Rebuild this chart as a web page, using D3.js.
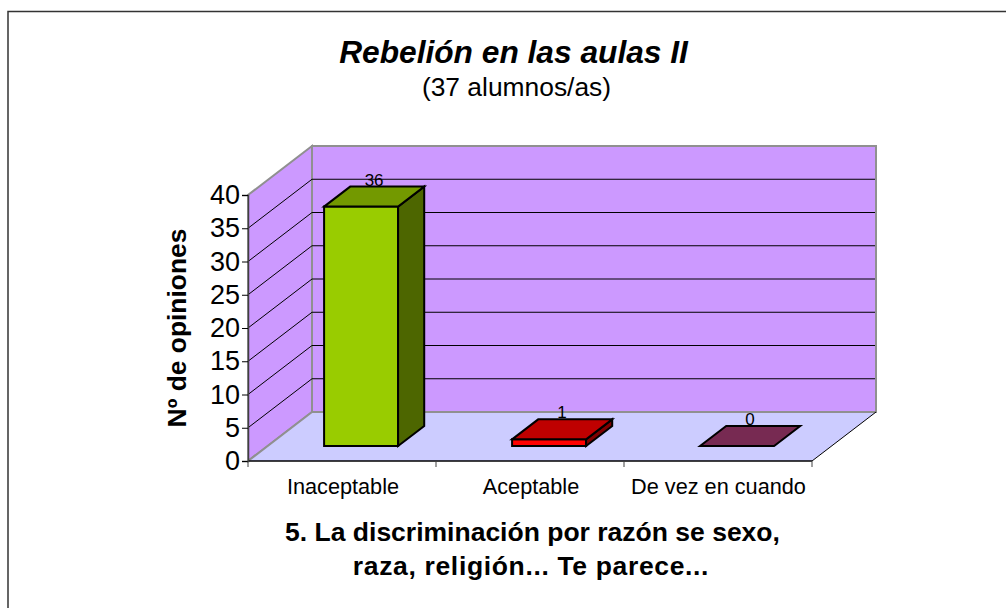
<!DOCTYPE html>
<html><head><meta charset="utf-8">
<style>html,body{margin:0;padding:0;background:#fff}svg{display:block}text{font-family:"Liberation Sans",Arial,sans-serif;fill:#000}</style>
<script src="https://cdn.jsdelivr.net/npm/d3@7"></script></head><body><svg id="c" width="1006" height="608"></svg>
<script>
const categories=["Inaceptable","Aceptable","De vez en cuando"];
const values=[36,1,0];
const yTicks=[0,5,10,15,20,25,30,35,40];
const frontColors=["#99cc00","#ff0000","#772a52"];
const topColors=["#739900","#bf0000","#772a52"];
const sideColors=["#4d6600","#800000","#772a52"];
const svg=d3.select("#c");
svg.append("path").attr("fill","none").attr("stroke","#333").attr("stroke-width",1.5).attr("d","M8,608V11.5H1006");
const x=d3.scaleBand().domain(categories).range([248,812]);
const y=d3.scaleLinear().domain([0,40]).range([461,195]);
const depth=d3.scaleLinear().domain([0,1]).range([0,64]);
const px=(vx,d)=>vx+depth(d), py=(vy,d)=>vy-depth(d)*49/64;
const poly=(pts,fill,stroke,sw)=>svg.append("polygon").attr("points",pts.map(p=>p.join(",")).join(" ")).attr("fill",fill).attr("stroke",stroke).attr("stroke-width",sw);
const xL=248,xR=812,y0=y(0),yT=y(40);
poly([[px(xL,1),py(y0,1)],[px(xR,1),py(y0,1)],[px(xR,1),py(yT,1)],[px(xL,1),py(yT,1)]],"#cc99ff","#909090",2);
poly([[px(xL,0),y0],[px(xL,1),py(y0,1)],[px(xL,1),py(yT,1)],[px(xL,0),yT]],"#cc99ff","#909090",2);
poly([[xL,y0],[xR,y0],[px(xR,1),py(y0,1)],[px(xL,1),py(y0,1)]],"#ccccff","none",0);
yTicks.slice(1,-1).forEach(t=>{
  svg.append("path").attr("fill","none").attr("stroke","#000").attr("d",`M${xL},${y(t)}L${px(xL,1)},${py(y(t),1)}H${px(xR,1)-1}`);
});
svg.append("path").attr("fill","none").attr("stroke","#909090").attr("stroke-width",2).attr("d",`M${xL},${y0}L${px(xL,1)},${py(y0,1)}H${px(xR,1)}`);
svg.append("path").attr("fill","none").attr("stroke","#000").attr("d",`M${xR},${y0}L${px(xR,1)},${py(y0,1)}`);
svg.append("path").attr("fill","none").attr("stroke","#000").attr("stroke-width",1.5).attr("d",`M${xL},${y0}H${xR}`);
const ax=svg.append("g").attr("transform",`translate(${xL},0)`).call(d3.axisLeft(y).tickValues(yTicks).tickSize(6).tickPadding(3));
ax.select(".domain").attr("stroke","#404040").attr("stroke-width",1.5);
ax.selectAll("text").style("font-size","27px").style("font-family",'"Liberation Sans",Arial,sans-serif').attr("dx",1);
[xL,...categories.map(c=>x(c)+x.bandwidth())].forEach(v=>svg.append("line").attr("x1",v).attr("x2",v).attr("y1",y0).attr("y2",y0+6).attr("stroke","#404040"));
categories.forEach(c=>svg.append("text").attr("x",x(c)+x.bandwidth()/2-(c==="Inaceptable"?-1:c==="Aceptable"?-1:-.5)).attr("y",494).attr("text-anchor","middle").attr("font-size",21.7).text(c));
const dA=15/49,dB=35/49,bw=74;
categories.forEach((c,i)=>{
  const xa=px(x(c)+x.bandwidth()/2,dA)-bw/2-.5,xb=xa+bw,base=py(y0,dA),h=y0-y(values[i]),top=base-h;
  const dx=depth(dB-dA),dy=dx*49/64;
  const st="#000";
  if(h>0){
    poly([[xa,base],[xb,base],[xb,top],[xa,top]],frontColors[i],st,2);
    poly([[xb,base],[xb+dx,base-dy],[xb+dx,top-dy],[xb,top]],sideColors[i],st,2);
  }
  poly([[xa,top],[xb,top],[xb+dx,top-dy],[xa+dx,top-dy]],topColors[i],st,2);
  svg.append("text").attr("x",xa+bw/2+13).attr("y",top-dy-1).attr("text-anchor","middle").attr("font-size",17).text(values[i]);
});
svg.append("text").attr("x",513.5).attr("y",63).attr("text-anchor","middle").attr("font-size",31.7).attr("font-weight","bold").attr("font-style","italic").text("Rebelión en las aulas II");
svg.append("text").attr("x",516.5).attr("y",96).attr("text-anchor","middle").attr("font-size",26.4).text("(37 alumnos/as)");
svg.append("text").attr("transform","translate(186,328) rotate(-90)").attr("text-anchor","middle").attr("font-size",26.4).attr("font-weight","bold").text("Nº de opiniones");
svg.append("text").attr("x",532.5).attr("y",541).attr("text-anchor","middle").attr("font-size",26.5).attr("font-weight","bold").text("5. La discriminación por razón se sexo,");
svg.append("text").attr("x",531).attr("y",575).attr("text-anchor","middle").attr("font-size",26.5).attr("font-weight","bold").attr("letter-spacing",0.65).text("raza, religión... Te parece...");
</script></body></html>
